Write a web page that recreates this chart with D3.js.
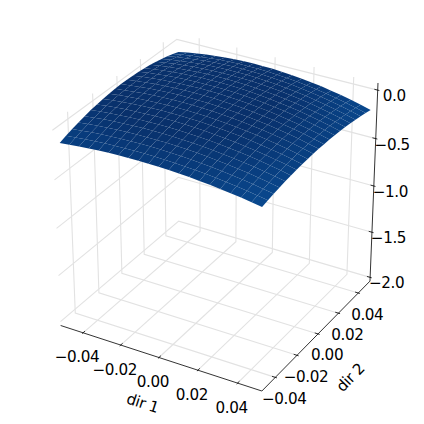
<!DOCTYPE html>
<html>
<head>
<meta charset="utf-8">
<script src="https://cdn.jsdelivr.net/npm/d3@7"></script>
<style>
  html, body { margin: 0; padding: 0; background: #fff; }
  text { font-family: "DejaVu Sans", sans-serif; font-size: 15.2px; letter-spacing: -0.4px; fill: #000; }
</style>
</head>
<body>
<svg id="chart"></svg>
<script>
const dir1Ticks = [-0.04, -0.02, 0, 0.02, 0.04];
const dir2Ticks = [-0.04, -0.02, 0, 0.02, 0.04];
const zTicks = [0, -0.5, -1, -1.5, -2];
const dirLim = [-0.05, 0.05];
const zLim = [-2, 0.03];
const dir1Values = [-0.05, -0.045, -0.04, -0.035, -0.03, -0.025, -0.02, -0.015, -0.01, -0.005, 0, 0.005, 0.01, 0.015, 0.02, 0.025, 0.03, 0.035, 0.04, 0.045, 0.05];
const dir2Values = dir1Values;
// one row per dir 2 value, read along dir 1
const surface = [
  [-.136,-.125,-.116,-.108,-.101,-.096,-.093,-.091,-.091,-.092,-.094,-.098,-.103,-.110,-.119,-.129,-.140,-.153,-.167,-.183,-.200],
  [-.111,-.101,-.091,-.084,-.077,-.073,-.070,-.068,-.068,-.069,-.072,-.077,-.083,-.090,-.099,-.110,-.122,-.135,-.150,-.167,-.185],
  [-.089,-.079,-.069,-.062,-.056,-.051,-.048,-.047,-.047,-.049,-.052,-.057,-.063,-.071,-.081,-.092,-.105,-.119,-.135,-.153,-.172],
  [-.070,-.059,-.050,-.042,-.036,-.032,-.029,-.028,-.028,-.030,-.034,-.039,-.046,-.055,-.065,-.077,-.090,-.105,-.122,-.140,-.160],
  [-.053,-.042,-.032,-.025,-.019,-.015,-.012,-.011,-.012,-.014,-.018,-.024,-.031,-.040,-.051,-.063,-.077,-.092,-.110,-.129,-.149],
  [-.038,-.027,-.017,-.010,-.004,.001,.003,.004,.003,.001,-.004,-.010,-.017,-.027,-.038,-.051,-.065,-.082,-.100,-.119,-.141],
  [-.026,-.014,-.005,.003,.009,.013,.016,.017,.016,.013,.008,.002,-.006,-.016,-.027,-.041,-.056,-.072,-.091,-.111,-.133],
  [-.016,-.004,.006,.014,.020,.024,.027,.027,.026,.023,.018,.012,.004,-.006,-.018,-.032,-.048,-.065,-.084,-.105,-.128],
  [-.008,.004,.014,.022,.028,.032,.035,.036,.035,.032,.027,.020,.011,.001,-.011,-.025,-.041,-.059,-.079,-.100,-.124],
  [-.003,.009,.019,.028,.034,.039,.041,.042,.041,.038,.033,.026,.017,.007,-.006,-.020,-.037,-.055,-.075,-.097,-.121],
  [0,.012,.023,.032,.038,.043,.046,.046,.045,.042,.037,.030,.021,.010,-.003,-.017,-.034,-.053,-.073,-.096,-.120],
  [0,.013,.024,.033,.040,.045,.048,.048,.047,.044,.039,.032,.023,.012,-.001,-.016,-.033,-.052,-.073,-.096,-.121],
  [-.002,.012,.023,.032,.039,.044,.047,.049,.048,.045,.039,.032,.023,.012,-.001,-.016,-.034,-.053,-.074,-.097,-.123],
  [-.006,.008,.019,.029,.036,.042,.045,.046,.046,.043,.038,.031,.022,.010,-.003,-.018,-.036,-.055,-.077,-.101,-.126],
  [-.013,.001,.013,.023,.031,.037,.041,.042,.042,.039,.034,.027,.018,.007,-.007,-.022,-.040,-.060,-.082,-.105,-.132],
  [-.022,-.007,.005,.016,.024,.030,.034,.036,.036,.033,.028,.021,.012,.001,-.012,-.028,-.046,-.066,-.088,-.112,-.138],
  [-.034,-.018,-.005,.006,.015,.021,.025,.028,.027,.025,.021,.014,.005,-.006,-.020,-.035,-.053,-.073,-.096,-.120,-.147],
  [-.048,-.032,-.018,-.006,.003,.010,.015,.017,.017,.015,.011,.004,-.005,-.016,-.029,-.045,-.063,-.083,-.105,-.130,-.157],
  [-.064,-.047,-.033,-.021,-.011,-.004,.002,.005,.005,.003,-.001,-.007,-.016,-.027,-.040,-.056,-.074,-.094,-.116,-.141,-.168],
  [-.083,-.066,-.050,-.038,-.027,-.019,-.014,-.010,-.009,-.011,-.014,-.021,-.029,-.040,-.053,-.068,-.086,-.106,-.129,-.154,-.181],
  [-.104,-.086,-.070,-.057,-.046,-.037,-.031,-.027,-.026,-.027,-.030,-.036,-.044,-.055,-.068,-.083,-.101,-.121,-.143,-.168,-.196]
];

const W = 424, H = 424, dist = 10;
const elev = 30 * Math.PI / 180, azim = -60 * Math.PI / 180;
const svg = d3.select("#chart").attr("width", W).attr("height", H);

const wx = d3.scaleLinear().domain(dirLim).range([0, 1]);
const wy = d3.scaleLinear().domain(dirLim).range([0, 1]);
const wz = d3.scaleLinear().domain(zLim).range([0, 1]);
const sx = d3.scaleLinear().domain([-0.1, 0.1]).range([-5.2, 440.8]);
const sy = d3.scaleLinear().domain([-0.1, 0.1]).range([427.3, -16.5]);

const n = [Math.cos(elev) * Math.cos(azim), Math.cos(elev) * Math.sin(azim), Math.sin(elev)];
const u = [-Math.sin(azim), Math.cos(azim), 0];
const v = [n[1] * u[2] - n[2] * u[1], n[2] * u[0] - n[0] * u[2], n[0] * u[1] - n[1] * u[0]];
const dot = (a, b) => a[0] * b[0] + a[1] * b[1] + a[2] * b[2];

// world coords (0-1 box) to screen
function proj(p) {
  const r = [p[0] - 0.5, p[1] - 0.5, p[2] - 0.5];
  const w = dist - dot(r, n);
  return { x: sx(dot(r, u) / w), y: sy(dot(r, v) / w), w };
}
const pad = 1 / 48;
const lo = -pad, hi = 1 + pad;
const line = pts => d3.line().x(d => proj(d).x).y(d => proj(d).y)(pts);

// Panes grid
const gridG = svg.append("g").attr("fill", "none").attr("stroke", "#e2e2e2").attr("stroke-width", 1.1);
dir1Ticks.forEach(t => {
  const a = wx(t);
  gridG.append("path").attr("d", line([[a, lo, lo], [a, hi, lo], [a, hi, hi]]));
});
dir2Ticks.forEach(t => {
  const b = wy(t);
  gridG.append("path").attr("d", line([[hi, b, lo], [lo, b, lo], [lo, b, hi]]));
});
zTicks.forEach(t => {
  const c = wz(t);
  gridG.append("path").attr("d", line([[lo, lo, c], [lo, hi, c], [hi, hi, c]]));
});

// Axis lines and ticks
const axisG = svg.append("g").attr("fill", "none").attr("stroke", "#000").attr("stroke-width", 0.8);
axisG.append("path").attr("d", line([[lo, lo, lo], [hi, lo, lo]]));
axisG.append("path").attr("d", line([[hi, lo, lo], [hi, hi, lo]]));
axisG.append("path").attr("d", line([[hi, hi, lo], [hi, hi, hi]]));
const tickOut = 1 / 120, tickIn = 1 / 60;
const labelG = svg.append("g").attr("text-anchor", "middle");
const fmt2 = d3.format(".2f"), fmt1 = d3.format(".1f");

dir1Ticks.forEach(t => {
  const a = wx(t);
  axisG.append("path").attr("d", line([[a, lo - tickOut, lo], [a, lo + tickIn, lo]]));
  const p = proj([a, lo, lo]);
  labelG.append("text").attr("x", p.x - 6).attr("y", p.y + 29.5).text(fmt2(t));
});
dir2Ticks.forEach(t => {
  const b = wy(t);
  axisG.append("path").attr("d", line([[hi + tickOut, b, lo], [hi - tickIn, b, lo]]));
  const p = proj([hi, b, lo]);
  labelG.append("text").attr("x", p.x + 9).attr("y", p.y + 26.5).text(fmt2(t));
});
zTicks.forEach(t => {
  const c = wz(t);
  axisG.append("path").attr("d", line([[hi - tickIn, hi, c], [hi + tickOut, hi, c]]));
  const p = proj([hi, hi, c]);
  labelG.append("text").attr("x", p.x + 16.5).attr("y", p.y + 11).text(fmt1(t));
});
svg.append("text").attr("text-anchor", "middle").attr("transform", "translate(141,408) rotate(18)").text("dir 1");
svg.append("text").attr("text-anchor", "middle").attr("transform", "translate(354,381) rotate(-46)").text("dir 2");

// Surface cells, back to front
const color = d3.scaleSequential(d3.interpolateBlues).domain([-2, 0]);
const cells = [];
for (let j = 0; j < dir2Values.length - 1; j++) {
  for (let i = 0; i < dir1Values.length - 1; i++) {
    const corners = [[i, j], [i + 1, j], [i + 1, j + 1], [i, j + 1]];
    const world = corners.map(([a, b]) => [wx(dir1Values[a]), wy(dir2Values[b]), wz(surface[b][a])]);
    const zMean = d3.mean(corners, ([a, b]) => surface[b][a]);
    cells.push({ world, zMean, depth: d3.mean(world, p => proj(p).w) });
  }
}
cells.sort((a, b) => d3.descending(a.depth, b.depth));
svg.append("g").selectAll("path").data(cells).join("path")
  .attr("d", d => line(d.world) + "Z")
  .attr("fill", d => color(d.zMean));
</script>
</body>
</html>
